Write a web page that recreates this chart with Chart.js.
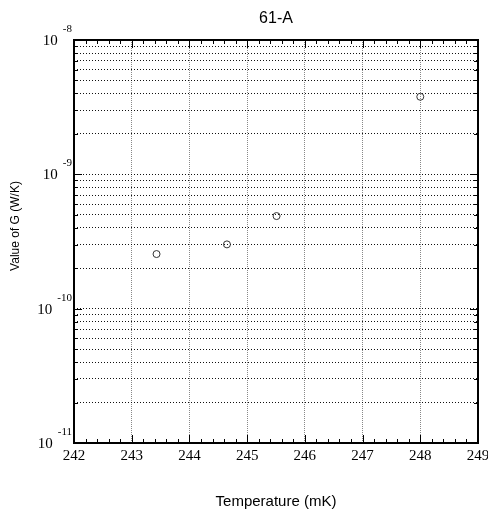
<!DOCTYPE html>
<html><head><meta charset="utf-8">
<script src="https://cdn.jsdelivr.net/npm/chart.js@4"></script>
<style>html,body{margin:0;padding:0;background:#fff}</style>
</head><body>
<div style="width:488px;height:517px"><canvas id="c" width="488" height="517"></canvas></div>
<script>
const chartTitle = '61-A';
const xAxisTitle = 'Temperature (mK)';
const yAxisTitle = 'Value of G (W/K)';
const temperatures = [243.43, 244.65, 245.51, 248.0];
const conductance = [2.55e-10, 3.01e-10, 4.89e-10, 3.78e-9];
const xTickLabels = ['242', '243', '244', '245', '246', '247', '248', '249'];
const yDecadeExponents = [-11, -10, -9, -8];
const yMantissas = [1, 2, 3, 4, 5, 6, 7, 8, 9];

const xTickValues = xTickLabels.map(Number);
const yGridValues = [];
yDecadeExponents.forEach((e, i) => {
  if (i === yDecadeExponents.length - 1) { yGridValues.push(Math.pow(10, e)); return; }
  yMantissas.forEach(m => yGridValues.push(m * Math.pow(10, e)));
});

const decorPlugin = {
  id: 'decor',
  afterDraw(chart) {
    const ctx = chart.ctx;
    const a = chart.chartArea;
    const xs = chart.scales.x, ys = chart.scales.y;
    ctx.save();
    // ticks
    ctx.strokeStyle = '#000';
    ctx.lineWidth = 1;
    const xMin = xTickValues[0], xMax = xTickValues[xTickValues.length - 1];
    const nMinor = Math.round((xMax - xMin) * 5);
    for (let i = 0; i <= nMinor; i++) {
      const v = xMin + i * 0.2;
      const px = Math.round(xs.getPixelForValue(v)) + 0.5;
      const len = (i % 5 === 0) ? 8 : 4;
      ctx.beginPath();
      ctx.moveTo(px, a.bottom); ctx.lineTo(px, a.bottom - len);
      ctx.moveTo(px, a.top); ctx.lineTo(px, a.top + len);
      ctx.stroke();
    }
    yGridValues.forEach(v => {
      const py = Math.round(ys.getPixelForValue(v)) + 0.5;
      const mant = v / Math.pow(10, Math.floor(Math.log10(v) + 1e-9));
      const len = Math.abs(mant - 1) < 1e-6 ? 8 : 4;
      ctx.beginPath();
      ctx.moveTo(a.left, py); ctx.lineTo(a.left + len, py);
      ctx.moveTo(a.right, py); ctx.lineTo(a.right - len, py);
      ctx.stroke();
    });
    // frame
    ctx.lineWidth = 2;
    ctx.strokeRect(a.left, a.top, a.right - a.left, a.bottom - a.top);
    // x labels
    ctx.fillStyle = '#000';
    ctx.font = '15px "Liberation Serif"';
    ctx.textAlign = 'center';
    ctx.textBaseline = 'alphabetic';
    xTickLabels.forEach(l => {
      ctx.fillText(l, xs.getPixelForValue(Number(l)), a.bottom + 17);
    });
    // y labels
    yDecadeExponents.forEach(e => {
      const py = ys.getPixelForValue(Math.pow(10, e));
      ctx.font = '11px "Liberation Serif"';
      const es = String(e);
      const ew = ctx.measureText(es).width;
      const ex = a.left - 2 - ew;
      ctx.textAlign = 'left';
      ctx.fillText(es, ex, py - 8);
      ctx.font = '15px "Liberation Serif"';
      ctx.textAlign = 'right';
      ctx.fillText('10', ex - 5, py + 5);
    });
    // titles
    ctx.font = '16px "Liberation Sans"';
    ctx.textAlign = 'center';
    ctx.fillText(chartTitle, (a.left + a.right) / 2, 23);
    ctx.font = '15px "Liberation Sans"';
    ctx.fillText(xAxisTitle, (a.left + a.right) / 2, 506);
    ctx.save();
    ctx.translate(16, 226);
    ctx.rotate(-Math.PI / 2);
    ctx.font = '12px "Liberation Sans"';
    ctx.textBaseline = 'middle';
    ctx.fillText(yAxisTitle, 0, 0);
    ctx.restore();
    ctx.restore();
  }
};

new Chart(document.getElementById('c'), {
  type: 'scatter',
  data: {
    datasets: [{
      data: temperatures.map((t, i) => ({ x: t, y: conductance[i] })),
      pointStyle: 'circle',
      pointRadius: 3.5,
      pointBorderWidth: 1,
      pointBorderColor: '#333',
      pointBackgroundColor: 'rgba(0,0,0,0)',
      showLine: false,
      clip: false
    }]
  },
  options: {
    responsive: false,
    animation: false,
    devicePixelRatio: 1,
    layout: { padding: { left: 74, top: 40, right: 10, bottom: 74 } },
    plugins: { legend: { display: false }, tooltip: { enabled: false }, title: { display: false } },
    scales: {
      x: {
        type: 'linear', min: 242, max: 249,
        afterBuildTicks: s => { s.ticks = xTickValues.map(v => ({ value: v })); },
        ticks: { display: false },
        grid: { color: '#888', lineWidth: 1, drawTicks: false },
        border: { display: false, dash: [1, 1] }
      },
      y: {
        type: 'logarithmic', min: 1e-11, max: 1e-8,
        afterBuildTicks: s => { s.ticks = yGridValues.map(v => ({ value: v })); },
        ticks: { display: false },
        grid: { color: '#111', lineWidth: 1, drawTicks: false },
        border: { display: false, dash: [1, 2] }
      }
    }
  },
  plugins: [decorPlugin]
});
</script>
</body></html>
